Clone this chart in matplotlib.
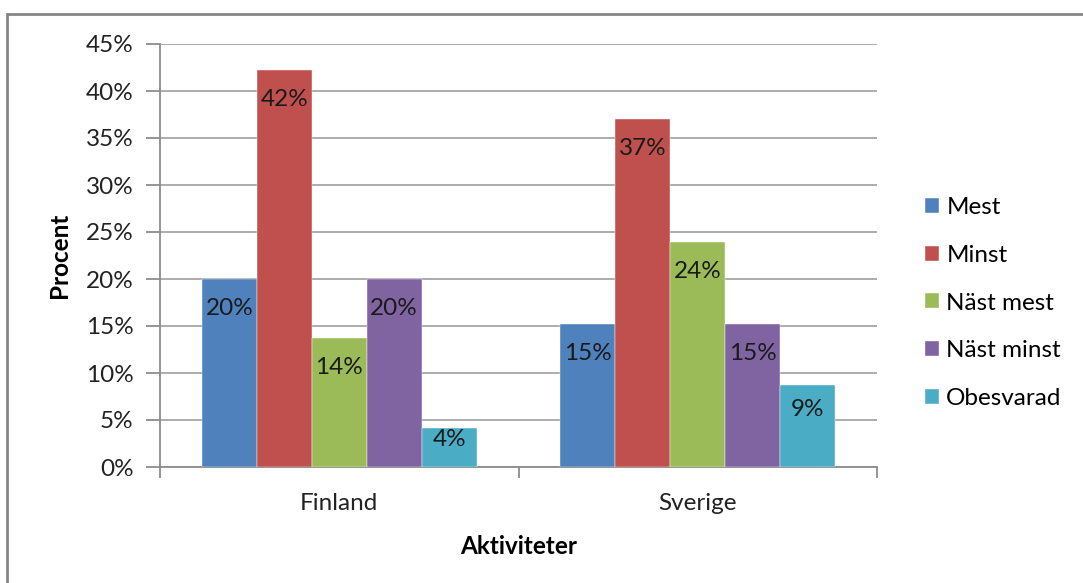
import matplotlib.pyplot as plt
import numpy as np
from matplotlib.patches import Rectangle

# survey shares (%) per country and answer
countries = ["Finland", "Sverige"]
answers = ["Mest", "Minst", "Näst mest", "Näst minst", "Obesvarad"]
mest = [20.0, 15.2]
minst = [42.2, 37.0]
nast_mest = [13.7, 23.9]
nast_minst = [20.0, 15.2]
obesvarad = [4.15, 8.7]
yticks = [0, 5, 10, 15, 20, 25, 30, 35, 40, 45]

series = [mest, minst, nast_mest, nast_minst, obesvarad]
colors = ["#4F81BD", "#C0504D", "#9BBB59", "#8064A2", "#4BACC6"]

plt.rcParams["font.family"] = ["Lato", "DejaVu Sans"]
FS = 17.5

fig = plt.figure(figsize=(10.83, 5.83), dpi=100)
ax = fig.add_axes([160 / 1083, 116 / 583, 717 / 1083, 423 / 583])

# outer chart frame (runs off the right and bottom edges)
fig.patches.append(Rectangle((7 / 1083, -0.5), 1.2, 0.5 + 569 / 583, transform=fig.transFigure,
                             fill=False, edgecolor="#868686", linewidth=2, zorder=0))

x = np.arange(len(countries))
width = 0.1534
for i, (vals, name, col) in enumerate(zip(series, answers, colors)):
    pos = x + (i - 2) * width
    ax.bar(pos, vals, width, color=col, label=name, zorder=3,
           edgecolor="white", linewidth=0.3)
    for px, v in zip(pos, vals):
        off = min(3.1, 0.3 * v)
        ax.text(px, v - off, f"{v:.0f}%", ha="center", va="center",
                fontsize=FS, color="#1a1a1a", zorder=4)

ax.set_xlim(-0.5, 1.5)
ax.set_ylim(0, 45)
ax.set_yticks(yticks)
ax.set_yticklabels([f"{t}%" for t in yticks], fontsize=FS, color="#222222")
ax.set_xticks([-0.5, 0.5, 1.5], minor=False)
ax.set_xticklabels([])
ax.set_xticks(x, minor=True)
ax.set_xticklabels(countries, minor=True, fontsize=FS, color="#222222")
ax.tick_params(axis="x", which="minor", length=0, pad=18.5)
ax.tick_params(axis="x", which="major", length=8, width=1.3, color="#8c8c8c", direction="out")
ax.tick_params(axis="y", length=10, width=1.3, color="#8c8c8c", pad=9)

ax.yaxis.grid(True, color="#a6a6a6", linewidth=1.3, zorder=0)
ax.set_axisbelow(True)
for s in ["top", "right"]:
    ax.spines[s].set_visible(False)
for s in ["left", "bottom"]:
    ax.spines[s].set_color("#8c8c8c")
    ax.spines[s].set_linewidth(1.3)

ax.set_ylabel("Procent", fontsize=FS, fontweight="bold", labelpad=11)
ax.set_xlabel("Aktiviteter", fontsize=FS, fontweight="bold", labelpad=15)

fig.legend(loc="center left", bbox_to_anchor=(903 / 1083, 280 / 583), frameon=False,
           fontsize=FS, handlelength=0.58, handleheight=0.58, handletextpad=0.3,
           labelspacing=1.1)

fig.savefig("out.png", dpi=100)
